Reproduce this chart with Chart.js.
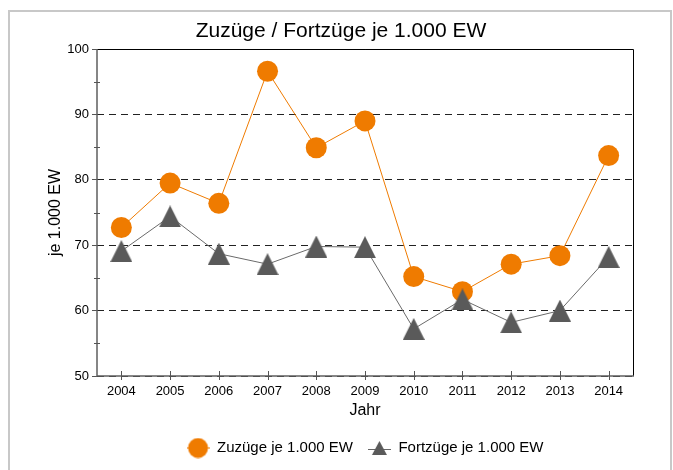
<!DOCTYPE html>
<html><head><meta charset="utf-8">
<script src="https://cdn.jsdelivr.net/npm/chart.js@4/dist/chart.umd.min.js"></script>
<style>
html,body{margin:0;padding:0;background:#fff;overflow:hidden;width:673px;height:470px;}
#frame{position:absolute;left:8px;top:10px;width:664px;height:520px;box-sizing:border-box;border:2.5px solid #c8c8c8;}
#wrap{position:absolute;left:0;top:0;width:673px;height:470px;}
</style></head><body>
<div id="frame"></div>
<div id="wrap"><canvas id="c" width="673" height="470"></canvas></div>
<script>
const years = ['2004','2005','2006','2007','2008','2009','2010','2011','2012','2013','2014'];
const zuzuege = [72.7, 79.5, 76.4, 96.6, 84.9, 89.0, 65.2, 62.9, 67.1, 68.4, 83.7];
const fortzuege = [69.1, 74.4, 68.7, 67.1, 69.8, 69.7, 57.2, 61.7, 58.2, 60.0, 68.2];
const seriesNames = ['Zuzüge je 1.000 EW', 'Fortzüge je 1.000 EW'];
const chartTitle = 'Zuzüge / Fortzüge je 1.000 EW';
const yTitle = 'je 1.000 EW';
const xTitle = 'Jahr';
const yMin = 50, yMax = 100, yStep = 10;
const minorTicks = [55, 65, 75, 85, 95];

const ORANGE = '#EF7B00';
const GRAY = '#5a5a5a';
const FONT = "'Liberation Sans', Arial, sans-serif";

function makeCanvas(w, h, draw) {
  const c = document.createElement('canvas');
  c.width = w; c.height = h;
  draw(c.getContext('2d'));
  return c;
}
const triPoint = makeCanvas(22, 22, g => {
  g.fillStyle = GRAY;
  g.beginPath(); g.moveTo(0, 22); g.lineTo(11, 0); g.lineTo(22, 22); g.closePath(); g.fill();
});
const legendCircle = makeCanvas(23, 21, g => {
  g.strokeStyle = ORANGE; g.lineWidth = 1;
  g.beginPath(); g.moveTo(0, 10.5); g.lineTo(23, 10.5); g.stroke();
  g.fillStyle = ORANGE;
  g.beginPath(); g.arc(11.5, 10.5, 10, 0, Math.PI * 2); g.fill();
});
const legendTri = makeCanvas(23, 16, g => {
  g.strokeStyle = '#666'; g.lineWidth = 1;
  g.beginPath(); g.moveTo(0, 9.5); g.lineTo(23, 9.5); g.stroke();
  g.fillStyle = GRAY;
  g.beginPath(); g.moveTo(4, 15); g.lineTo(11.5, 1); g.lineTo(19, 15); g.closePath(); g.fill();
});

const framePlugin = {
  id: 'framePlugin',
  beforeDatasetsDraw(chart) {
    const {ctx, chartArea: a, scales: {x, y}} = chart;
    ctx.save();
    ctx.strokeStyle = '#000'; ctx.lineWidth = 1;
    ctx.beginPath();
    ctx.moveTo(a.left, a.top + 0.5); ctx.lineTo(a.right + 0.5, a.top + 0.5); ctx.lineTo(a.right + 0.5, a.bottom);
    ctx.stroke();
    ctx.strokeStyle = '#5f5f5f'; ctx.lineWidth = 1.5;
    ctx.beginPath();
    ctx.moveTo(a.left, a.top); ctx.lineTo(a.left, a.bottom); ctx.lineTo(a.right + 1, a.bottom);
    ctx.stroke();
    ctx.lineWidth = 1; ctx.strokeStyle = '#555';
    ctx.beginPath();
    minorTicks.forEach(v => {
      const py = Math.round(y.getPixelForValue(v)) + 0.5;
      ctx.moveTo(a.left - 3, py); ctx.lineTo(a.left + 3, py);
    });
    years.forEach((_, i) => {
      const px = Math.round(x.getPixelForValue(i)) + 0.5;
      ctx.moveTo(px, a.bottom - 5); ctx.lineTo(px, a.bottom + 4);
    });
    ctx.stroke();
    ctx.restore();
  }
};

new Chart(document.getElementById('c'), {
  type: 'line',
  data: {
    labels: years,
    datasets: [
      {
        label: seriesNames[0], data: zuzuege, order: 1,
        borderColor: ORANGE, borderWidth: 1, tension: 0,
        pointStyle: 'circle', pointRadius: 10.5, pointHoverRadius: 10.5,
        pointBackgroundColor: ORANGE, pointBorderWidth: 0
      },
      {
        label: seriesNames[1], data: fortzuege, order: 0,
        borderColor: '#6a6a6a', borderWidth: 1, tension: 0,
        pointStyle: triPoint, pointRadius: 11, pointHoverRadius: 11,
        pointBackgroundColor: GRAY, pointBorderWidth: 0
      }
    ]
  },
  options: {
    responsive: false, animation: false, events: [],
    layout: {padding: {left: 49, right: 40, top: 0, bottom: 4.5}},
    scales: {
      x: {
        type: 'category', offset: true,
        grid: {display: false, drawTicks: false, tickLength: 0},
        border: {display: false},
        ticks: {color: '#000', font: {family: FONT, size: 13}, padding: 8, maxRotation: 0, autoSkip: false},
        title: {display: true, text: xTitle, color: '#000', font: {family: FONT, size: 16}, padding: {top: 0, bottom: 5}},
        afterFit(s) { s.height = 49.5; }
      },
      y: {
        min: yMin, max: yMax,
        grid: {color: '#222', lineWidth: 1, tickLength: 5, tickColor: '#555', drawTicks: true},
        border: {display: false, dash: [7, 5]},
        ticks: {stepSize: yStep, color: '#000', font: {family: FONT, size: 13}, padding: 3},
        title: {display: true, text: yTitle, color: '#000', font: {family: FONT, size: 16}, padding: {top: -3, bottom: 0}},
        afterFit(s) { s.width = 48; }
      }
    },
    plugins: {
      title: {display: true, text: chartTitle, color: '#000', font: {family: FONT, size: 21, weight: 'normal'}, padding: {top: 19, bottom: 4.8}},
      legend: {
        position: 'bottom', fullSize: false,
        labels: {
          usePointStyle: true, pointStyleWidth: 23, padding: 15,
          color: '#000', font: {family: FONT, size: 15},
          generateLabels: () => [
            {text: seriesNames[0], pointStyle: legendCircle, fillStyle: ORANGE, strokeStyle: ORANGE, lineWidth: 0, hidden: false, datasetIndex: 0, fontColor: '#000'},
            {text: seriesNames[1], pointStyle: legendTri, fillStyle: GRAY, strokeStyle: GRAY, lineWidth: 0, hidden: false, datasetIndex: 1, fontColor: '#000'}
          ]
        }
      },
      tooltip: {enabled: false}
    }
  },
  plugins: [framePlugin]
});
</script>
</body></html>
